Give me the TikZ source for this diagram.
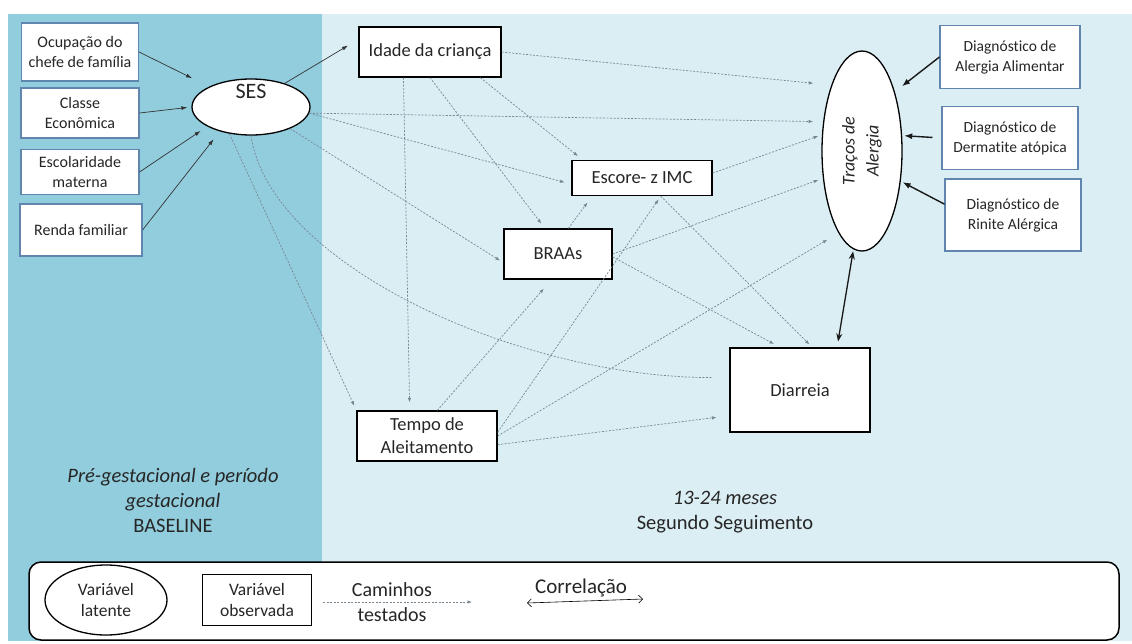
\documentclass[tikz,border=0pt]{standalone}
\usepackage{fontspec}
\setmainfont{Carlito}[Ligatures=NoCommon]
\usetikzlibrary{arrows.meta,shapes.geometric}

\definecolor{panelescuro}{RGB}{146,205,221}
\definecolor{panelclaro}{RGB}{219,238,244}
\definecolor{bordaazul}{RGB}{96,134,176}
\definecolor{texto}{RGB}{38,38,38}
\definecolor{cinzacaminho}{RGB}{120,134,145}

\begin{document}
\begin{tikzpicture}[
    x=1pt, y=-1pt,
    every node/.style={text=texto},
    indicador/.style={rectangle, draw=bordaazul, fill=white, line width=1.1pt, inner sep=0pt, align=center, font=\fontsize{16}{20}\selectfont},
    diagnostico/.style={indicador, font=\fontsize{15.5}{20}\selectfont},
    observada/.style={rectangle, draw=black, fill=white, line width=1.3pt, inner sep=0pt, align=center, font=\fontsize{18.5}{23}\selectfont},
    latente/.style={ellipse, draw=black, fill=white, line width=1.3pt, inner sep=0pt, align=center},
    periodo/.style={align=center, font=\fontsize{20.5}{25}\selectfont},
    seta/.style={-{Latex[length=6pt,width=4pt]}, draw=black!80, line width=0.7pt},
    setaforte/.style={-{Latex[length=8pt,width=6pt]}, draw=black!90, line width=1.4pt},
    correlacao/.style={{Stealth[length=8pt,width=6pt]}-{Stealth[length=8pt,width=6pt]}, draw=black!90, line width=1.3pt},
    caminho/.style={-{Latex[length=4.5pt,width=3.5pt]}, draw=cinzacaminho, line width=0.7pt, dash pattern=on 2pt off 1.5pt}
]
\useasboundingbox (0,0) rectangle (1132,643);

% Periodos
\fill[panelescuro] (8,14) rectangle (322,641);
\fill[panelclaro] (322,14) rectangle (1132,641);
\node[periodo] (baseline) at (173,500) {\textit{Pré-gestacional e período}\\\textit{gestacional}\\BASELINE};
\node[periodo] (seguimento) at (725,512) {\textit{13-24 meses}\\Segundo Seguimento};

% Indicadores do SES
\node[indicador, minimum width=117pt, minimum height=58pt] (ocup) at (80,52) {Ocupação do\\chefe de família};
\node[indicador, minimum width=118pt, minimum height=50pt] (classe) at (80,113) {Classe\\Econômica};
\node[indicador, minimum width=118pt, minimum height=45pt] (escol) at (80,172) {Escolaridade\\materna};
\node[indicador, minimum width=122pt, minimum height=52pt] (renda) at (81,230) {Renda familiar};

% Variaveis latentes
\node[latente, minimum width=118pt, minimum height=56pt] (ses) at (251,107) {};
\node[font=\fontsize{22}{26}\selectfont] (sestexto) at (251,91) {SES};
\node[latente, minimum width=80pt, minimum height=200pt] (traco) at (862,151) {};
\node[rotate=90, align=center, font=\itshape\fontsize{18}{24}\selectfont] (tracotexto) at (862,151) {Traços de\\Alergia};

% Variaveis observadas
\node[observada, minimum width=142pt, minimum height=50pt] (idade) at (430,52) {Idade da criança};
\node[observada, minimum width=140pt, minimum height=35pt] (escore) at (642,178) {Escore- z IMC};
\node[observada, minimum width=108pt, minimum height=50pt] (braas) at (558,254) {BRAAs};
\node[observada, minimum width=140pt, minimum height=50pt] (tempo) at (427,436) {Tempo de\\Aleitamento};
\node[observada, minimum width=140pt, minimum height=84pt] (diarreia) at (800,390) {Diarreia};

% Diagnosticos
\node[diagnostico, minimum width=140pt, minimum height=63pt] (dalim) at (1010,57) {Diagnóstico de\\Alergia Alimentar};
\node[diagnostico, minimum width=136pt, minimum height=63pt] (dderm) at (1010,138) {Diagnóstico de\\Dermatite atópica};
\node[diagnostico, minimum width=136pt, minimum height=72pt] (drin) at (1013,215) {Diagnóstico de\\Rinite Alérgica};

% Setas do SES
\draw[seta, shorten >=19pt] (ocup.east) -- (ses.154);
\draw[seta, shorten >=4pt] (classe.east) -- (ses.west);
\draw[seta, shorten >=8pt] (escol.east) -- (ses.204);
\draw[seta, shorten >=10pt] (renda.east) -- (ses.218);
\draw[seta, shorten >=12pt] (ses.35) -- (idade.170);

% Setas dos diagnosticos
\draw[setaforte, shorten >=9pt] (dalim.west) -- (traco.61);
\draw[setaforte, shorten <=9pt, shorten >=2pt] (dderm.west) -- (traco.21);
\draw[setaforte, shorten >=2pt] (drin.171) -- (traco.322);
\draw[correlacao, shorten <=6pt, shorten >=2pt] (diarreia.49) -- (traco.265);

% Caminhos testados
\draw[caminho, shorten >=10pt] (ses.354) -- (traco.143);
\draw[caminho, shorten >=7pt] (ses.354) -- (escore.185);
\draw[caminho, shorten >=4pt] (ses.331) -- (braas.189);
\draw[caminho, shorten >=5pt] (ses.231) -- (tempo.north west);
\draw[caminho, -, shorten >=17pt] (ses.south) .. controls (270,265) and (520,378) .. (diarreia.170);

\draw[caminho, shorten >=18pt] (idade.east) -- (traco.115);
\draw[caminho, shorten >=8pt] (idade.224) -- (tempo.124);
\draw[caminho, shorten >=6pt] (idade.south) -- (braas.117);
\draw[caminho, shorten >=6pt] (idade.333) -- (escore.163);

\draw[caminho, shorten >=4pt] (escore.4) -- (traco.158);
\draw[caminho, shorten >=4pt] (escore.316) -- (diarreia.74);

\draw[caminho, shorten >=5pt] (braas.east) -- (traco.215);
\draw[caminho, shorten >=7pt] (braas.357) -- (diarreia.115);
\draw[caminho, shorten >=8pt] (braas.68) -- (escore.200);

\draw[caminho, shorten >=12pt] (tempo.68) -- (braas.256);
\draw[caminho, shorten >=4pt] (tempo.3) -- (escore.316);
\draw[caminho, shorten >=13pt] (tempo.east) -- (traco.254);
\draw[caminho, shorten >=13pt] (tempo.353) -- (diarreia.200);

% Legenda
\node[draw=black, line width=1.5pt, fill=white, rounded corners=12pt, minimum width=1090pt, minimum height=78pt, inner sep=0pt] (legenda) at (574,601) {};
\node[latente, minimum width=122pt, minimum height=70pt, font=\fontsize{17.5}{21}\selectfont] (leglatente) at (106,600) {Variável\\latente};
\node[observada, minimum width=109pt, minimum height=51pt, font=\fontsize{17.5}{21}\selectfont] (legobservada) at (257,600) {Variável\\observada};
\coordinate (caminhoA) at (323,602);
\coordinate (caminhoB) at (472,602);
\draw[caminho] (caminhoA) -- (caminhoB);
\node[align=center, font=\fontsize{20}{25}\selectfont] (legcaminho) at (392,602) {Caminhos\\testados};
\node[font=\fontsize{21}{25}\selectfont] (legcorr) at (581,588) {Correlação};
\coordinate (corrA) at (527,603);
\coordinate (corrB) at (643,599);
\draw[{Straight Barb[length=4pt]}-{Straight Barb[length=4pt]}, line width=0.6pt] (corrA) -- (corrB);

\end{tikzpicture}
\end{document}
